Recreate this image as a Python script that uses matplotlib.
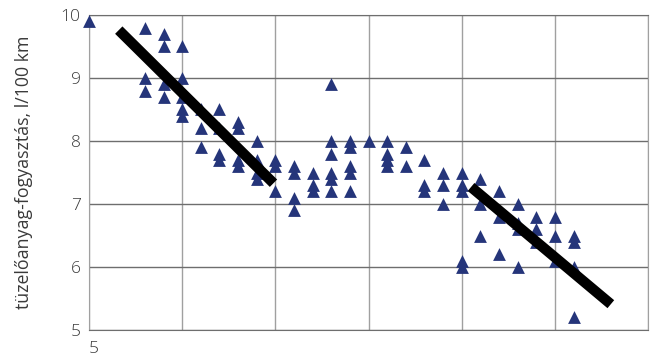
import matplotlib
matplotlib.use("Agg")
import matplotlib.pyplot as plt

# measured points (x in axis units, one gridline every 5)
x_vals = [5,
          8, 8, 8,
          9, 9, 9, 9,
          10, 10, 10, 10, 10,
          11, 11, 11,
          12, 12, 12, 12,
          13, 13, 13, 13,
          14, 14, 14, 14,
          15, 15, 15,
          16, 16, 16, 16,
          17, 17, 17,
          18, 18, 18, 18, 18, 18,
          19, 19, 19, 19, 19,
          20,
          21, 21, 21, 21,
          22, 22,
          23, 23, 23,
          24, 24, 24,
          25, 25, 25, 25, 25,
          26, 26, 26,
          27, 27, 27,
          28, 28, 28, 28,
          29, 29, 29,
          30, 30, 30,
          31, 31, 31, 31]
y_vals = [9.9,
          9.8, 9.0, 8.8,
          9.7, 9.5, 8.9, 8.7,
          9.5, 9.0, 8.7, 8.5, 8.4,
          8.5, 8.2, 7.9,
          8.5, 8.2, 7.8, 7.7,
          8.3, 8.2, 7.7, 7.6,
          8.0, 7.7, 7.5, 7.4,
          7.7, 7.6, 7.2,
          7.6, 7.5, 7.1, 6.9,
          7.5, 7.3, 7.2,
          8.9, 8.0, 7.8, 7.5, 7.4, 7.2,
          8.0, 7.9, 7.6, 7.5, 7.2,
          8.0,
          8.0, 7.8, 7.7, 7.6,
          7.9, 7.6,
          7.7, 7.3, 7.2,
          7.5, 7.3, 7.0,
          7.5, 7.3, 7.2, 6.1, 6.0,
          7.4, 7.0, 6.5,
          7.2, 6.8, 6.2,
          7.0, 6.7, 6.6, 6.0,
          6.8, 6.6, 6.4,
          6.8, 6.5, 6.1,
          6.5, 6.4, 6.0, 5.2]

trend1_x = [6.6, 14.9]
trend1_y = [9.76, 7.33]
trend2_x = [25.5, 33.0]
trend2_y = [7.27, 5.41]

x_ticks = [5, 10, 15, 20, 25, 30, 35]
x_labels = ["5", "", "", "", "", "", ""]
y_ticks = [5, 6, 7, 8, 9, 10]

plt.rcParams["font.family"] = ["Open Sans", "DejaVu Sans"]
plt.rcParams["font.weight"] = "light"

fig = plt.figure(figsize=(6.54, 3.57), dpi=100)
ax = fig.add_axes([0.136, 0.0756, 0.855, 0.8824])

ax.scatter(x_vals, y_vals, marker="^", s=85, color="#25357a", linewidths=0,
           zorder=3, clip_on=False)
ax.plot(trend1_x, trend1_y, color="black", linewidth=7.5, solid_capstyle="butt", zorder=4)
ax.plot(trend2_x, trend2_y, color="black", linewidth=7.5, solid_capstyle="butt", zorder=4)

ax.set_xlim(5, 35)
ax.set_ylim(5, 10)
ax.set_xticks(x_ticks)
ax.set_xticklabels(x_labels)
ax.set_yticks(y_ticks)
for lbl in ax.get_xticklabels():
    lbl.set_horizontalalignment("left")

ax.tick_params(axis="both", length=0, labelsize=12.5, colors="#3a3a3a")
ax.tick_params(axis="x", pad=8)
ax.tick_params(axis="y", pad=6)

ax.grid(axis="y", color="#6e6e6e", linewidth=1.0, zorder=0)
ax.grid(axis="x", color="#a0a0a0", linewidth=1.0, zorder=0)
ax.set_axisbelow(True)
for side in ["top", "bottom"]:
    ax.spines[side].set_color("#6e6e6e")
for side in ["left", "right"]:
    ax.spines[side].set_color("#a0a0a0")

ax.set_ylabel("tüzelőanyag-fogyasztás, l/100 km", fontsize=12.8, color="#3a3a3a", labelpad=20)

fig.savefig("out.png", dpi=100)
